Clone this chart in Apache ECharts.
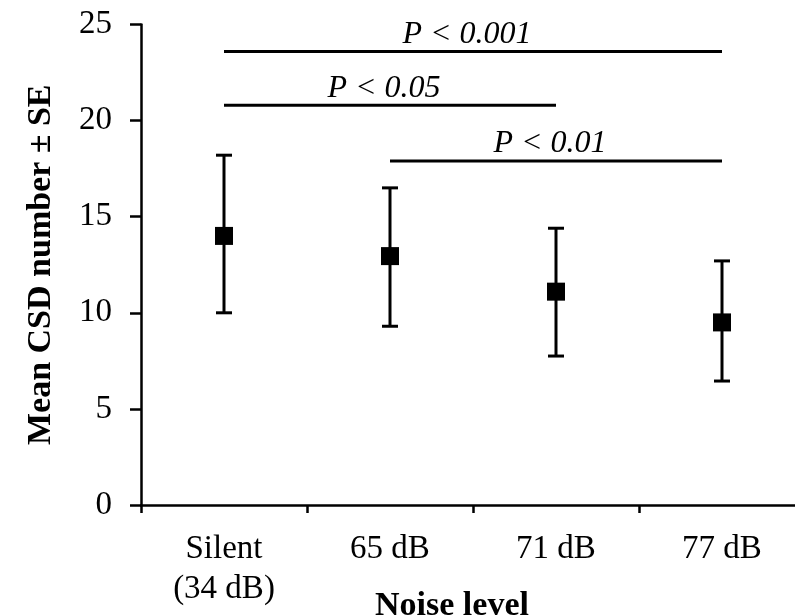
<!DOCTYPE html>
<html><head><meta charset="utf-8">
<script src="https://cdn.jsdelivr.net/npm/echarts@6/dist/echarts.min.js"></script>
<style>html,body{margin:0;padding:0;background:#fff}#c{width:795px;height:616px}</style>
</head><body><div id="c"></div>
<script>
const categories = ['Silent\n(34 dB)', '65 dB', '71 dB', '77 dB'];
const means = [14.0, 12.95, 11.1, 9.5];
const upper = [18.2, 16.5, 14.4, 12.7];
const lower = [10.0, 9.3, 7.75, 6.45];
const yTicks = [0, 5, 10, 15, 20, 25];
const sigFrom = [0, 0, 1];
const sigTo = [3, 2, 3];
const sigY = [23.6, 20.8, 17.9];
const sigLabels = ['P < 0.001', 'P < 0.05', 'P < 0.01'];

const FONT = '"Liberation Serif", "Times New Roman", serif';
const chart = echarts.init(document.getElementById('c'));

const errData = categories.map((c, i) => [i, lower[i], upper[i]]);
const sigData = sigLabels.map((l, i) => [sigFrom[i], sigTo[i], sigY[i], l]);

chart.setOption({
  animation: false,
  grid: {left: 141, right: -10, top: 24.5, bottom: 111, outerBoundsMode: 'none', containLabel: false},
  xAxis: {
    type: 'category', data: categories, boundaryGap: true,
    axisLine: {lineStyle: {color: '#000', width: 2.5}},
    axisTick: {show: true, length: 8, lineStyle: {color: '#000', width: 2.5}},
    axisLabel: {color: '#000', fontFamily: FONT, fontSize: 33, margin: 24, lineHeight: 40},
    name: 'Noise level', nameLocation: 'middle', nameGap: 84, nameMoveOverlap: false,
    nameTextStyle: {color: '#000', fontFamily: FONT, fontSize: 34, fontWeight: 'bold', padding: [0, 42, 0, 0]}
  },
  yAxis: {
    type: 'value', min: yTicks[0], max: yTicks[yTicks.length - 1], interval: 5,
    splitLine: {show: false},
    axisLine: {show: true, lineStyle: {color: '#000', width: 2.5}},
    axisTick: {show: true, length: 11, lineStyle: {color: '#000', width: 2.5}},
    axisLabel: {color: '#000', fontFamily: FONT, fontSize: 33, margin: 29},
    name: 'Mean CSD number ± SE', nameLocation: 'middle', nameGap: 83,
    nameTextStyle: {color: '#000', fontFamily: FONT, fontSize: 34, fontWeight: 'bold'}
  },
  series: [
    {
      type: 'custom', data: errData, z: 2,
      renderItem: function (params, api) {
        const x = api.coord([api.value(0), api.value(1)])[0];
        const lo = api.coord([api.value(0), api.value(1)])[1];
        const hi = api.coord([api.value(0), api.value(2)])[1];
        const hw = 8;
        const st = {stroke: '#000', lineWidth: 3};
        return {type: 'group', children: [
          {type: 'line', shape: {x1: x, y1: lo, x2: x, y2: hi}, style: st},
          {type: 'line', shape: {x1: x - hw, y1: lo, x2: x + hw, y2: lo}, style: st},
          {type: 'line', shape: {x1: x - hw, y1: hi, x2: x + hw, y2: hi}, style: st}
        ]};
      }
    },
    {
      type: 'scatter', data: means, symbol: 'rect', symbolSize: 18, z: 3,
      itemStyle: {color: '#000', opacity: 1}
    },
    {
      type: 'custom', data: sigData, z: 2,
      renderItem: function (params, api) {
        const p1 = api.coord([api.value(0), api.value(2)]);
        const p2 = api.coord([api.value(1), api.value(2)]);
        const label = sigLabels[params.dataIndex];
        return {type: 'group', children: [
          {type: 'line', shape: {x1: p1[0], y1: p1[1], x2: p2[0], y2: p2[1]}, style: {stroke: '#000', lineWidth: 3}},
          {type: 'text', x: (p1[0] + p2[0]) / 2 - 6, y: p1[1] - 1, style: {
            text: label, fill: '#000', font: 'italic 32px ' + FONT, textAlign: 'center', textVerticalAlign: 'bottom'}}
        ]};
      }
    }
  ]
});
</script></body></html>
